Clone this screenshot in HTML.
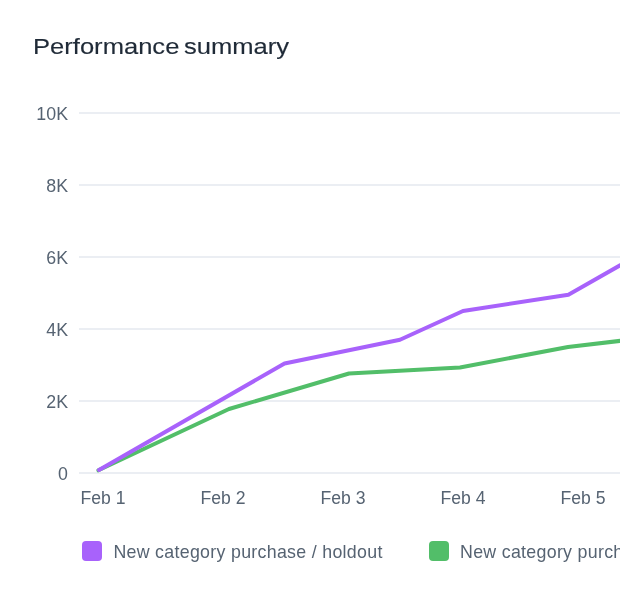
<!DOCTYPE html>
<html><head><meta charset="utf-8">
<style>
html,body{margin:0;padding:0;background:#fff;}
body{width:620px;height:600px;overflow:hidden;position:relative;font-family:"Liberation Sans",sans-serif;}
.t{position:absolute;white-space:nowrap;line-height:1;}
#title{left:33.2px;top:36.4px;font-size:22.4px;color:#1f2a37;font-weight:400;transform:scaleX(1.142);word-spacing:-2.2px;transform-origin:0 0;-webkit-text-stroke:0.15px #1f2a37;}
.yl{font-size:17.8px;color:#566372;text-align:right;width:60px;left:8px;}
.xl{font-size:17.6px;color:#566372;}
.lg{font-size:17.8px;color:#566372;letter-spacing:0.3px;}
svg{position:absolute;left:0;top:0;}
.sw{position:absolute;width:20px;height:20px;border-radius:4px;}
</style></head><body>
<svg width="620" height="600" viewBox="0 0 620 600">
<g stroke="#e5e9ef" stroke-width="1.3">
<line x1="79" x2="620" y1="113" y2="113"/>
<line x1="79" x2="620" y1="185" y2="185"/>
<line x1="79" x2="620" y1="257" y2="257"/>
<line x1="79" x2="620" y1="329" y2="329"/>
<line x1="79" x2="620" y1="401" y2="401"/>
<line x1="79" x2="620" y1="473" y2="473"/>
</g>
<polyline fill="none" stroke="#52be69" stroke-width="4" stroke-linejoin="round" stroke-linecap="round" points="98.4,470.3 229,409 349,373.5 460,367.5 568,347 640,338.5"/>
<polyline fill="none" stroke="#a862fb" stroke-width="4" stroke-linejoin="round" stroke-linecap="round" points="99,470 284.5,363.5 400,339.7 463,311 568.4,294.8 640,254"/>
</svg>
<div id="title" class="t">Performance summary</div>
<div class="t yl" style="top:106px">10K</div>
<div class="t yl" style="top:178px">8K</div>
<div class="t yl" style="top:250px">6K</div>
<div class="t yl" style="top:322px">4K</div>
<div class="t yl" style="top:394px">2K</div>
<div class="t yl" style="top:466px">0</div>
<div class="t xl" style="left:80.5px;top:490px">Feb 1</div>
<div class="t xl" style="left:200.5px;top:490px">Feb 2</div>
<div class="t xl" style="left:320.5px;top:490px">Feb 3</div>
<div class="t xl" style="left:440.5px;top:490px">Feb 4</div>
<div class="t xl" style="left:560.5px;top:490px">Feb 5</div>
<div class="sw" style="left:82px;top:541px;background:#a862fb"></div>
<div class="t lg" style="left:113.4px;top:544px">New category purchase / holdout</div>
<div class="sw" style="left:428.5px;top:541px;background:#52be69"></div>
<div class="t lg" style="left:460px;top:544px">New category purchase / treatment</div>
</body></html>
